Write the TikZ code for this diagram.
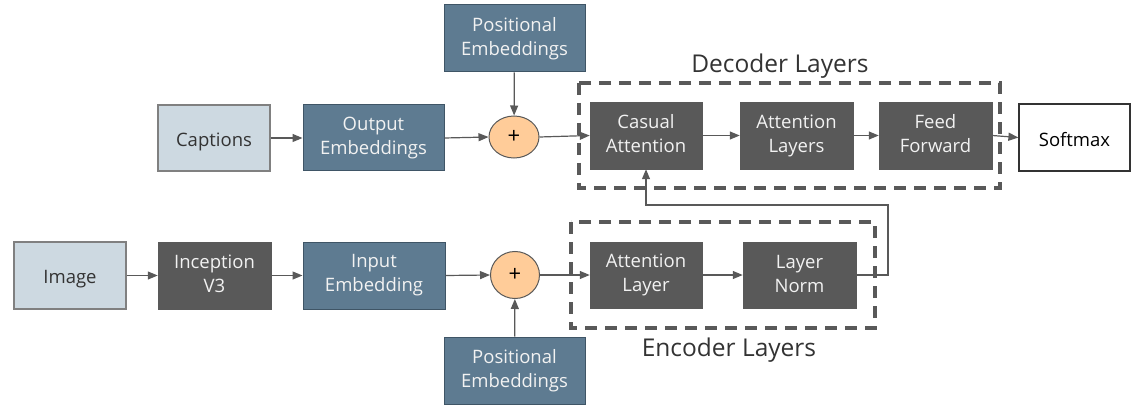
\documentclass[tikz,border=0pt]{standalone}
\usepackage{fontspec}
\setmainfont{Open Sans}
\usetikzlibrary{arrows.meta,shapes.geometric}
\definecolor{lightbox}{HTML}{CDD9E1}
\definecolor{lightborder}{HTML}{808080}
\definecolor{slate}{HTML}{5E7B91}
\definecolor{slateborder}{HTML}{3F5566}
\definecolor{darkbox}{HTML}{595959}
\definecolor{orangeplus}{HTML}{FFCC99}
\definecolor{linecol}{HTML}{595959}
\definecolor{whitetext}{HTML}{F2F2F2}
\definecolor{darktext}{HTML}{333333}
\newcommand{\boxstrut}{\rule[-3.2pt]{0pt}{24pt}}
\begin{document}
\begin{tikzpicture}[x=1pt,y=-1pt,
  base/.style={rectangle,align=center,inner sep=0pt,font=\fontsize{18.5}{24}\selectfont,
    execute at begin node=\boxstrut,execute at end node=\boxstrut},
  lightnode/.style={base,fill=lightbox,draw=lightborder,line width=1.2pt,text=darktext,minimum width=112pt,minimum height=66pt},
  slatenode/.style={base,fill=slate,draw=slateborder,line width=1pt,text=whitetext,minimum height=67pt},
  darknode/.style={base,fill=darkbox,draw=darkbox,line width=0.5pt,text=whitetext,minimum width=112pt,minimum height=67pt},
  whitenode/.style={base,fill=white,draw=darktext,line width=1.2pt,text=black,minimum width=111pt,minimum height=67pt},
  plusnode/.style={ellipse,fill=orangeplus,draw=linecol,line width=1pt,inner sep=0pt,font=\fontsize{22}{24}\selectfont,text=black},
  conn/.style={draw=linecol,line width=1.2pt,-{Triangle[length=10pt,width=8pt]}},
  dashbox/.style={draw=linecol,line width=3.5pt,dash pattern=on 12pt off 8pt},
  grouplabel/.style={font=\fontsize{24.5}{28}\selectfont,text=darktext,inner sep=0pt}
]
\useasboundingbox (0,0) rectangle (1136,409);
% top row
\node[lightnode] (cap) at (214,138) {Captions};
\node[slatenode,minimum width=141pt,minimum height=66pt] (outemb) at (373.5,138) {Output\\Embeddings};
\node[slatenode,minimum width=141pt] (posT) at (514.5,38.5) {Positional\\Embeddings};
\node[plusnode,minimum width=50pt,minimum height=42pt] (plusT) at (514,137) {+};
\node[darknode] (ca) at (646,135.5) {Casual\\Attention};
\node[darknode,minimum width=113pt] (al) at (796.5,135.5) {Attention\\Layers};
\node[darknode,minimum width=113pt] (ff) at (935.5,135.5) {Feed\\Forward};
\node[whitenode] (sm) at (1074.5,137.5) {Softmax};
\draw[dashbox] (579,83) rectangle (1000,188);
\node[grouplabel] (declab) at (780,66) {Decoder Layers};
% bottom row
\node[lightnode,minimum height=67pt] (img) at (70,275.5) {Image};
\node[darknode,minimum width=113pt] (inc) at (214.5,275.5) {Inception\\V3};
\node[slatenode,minimum width=142pt] (inemb) at (374,275.5) {Input\\Embedding};
\node[plusnode,minimum width=49pt,minimum height=47pt] (plusB) at (515,275) {+};
\node[slatenode,minimum width=141pt] (posB) at (514.5,370.5) {Positional\\Embeddings};
\node[darknode,minimum height=66pt] (atl) at (646,275) {Attention\\Layer};
\node[darknode,minimum width=113pt,minimum height=66pt] (ln) at (799.5,275) {Layer\\Norm};
\draw[dashbox] (571,222) rectangle (875,328);
\node[grouplabel] (enclab) at (729,350) {Encoder Layers};
% connectors top
\draw[conn] (cap) -- (outemb);
\draw[conn] (outemb.east) -- (plusT.west);
\draw[conn] (posT) -- (plusT);
\draw[conn] (plusT.east) -- (ca.west);
\draw[conn] (ca) -- (al);
\draw[conn] (al) -- (ff);
\draw[conn] (ff.east) -- (sm.west);
% connectors bottom
\draw[conn] (img) -- (inc);
\draw[conn] (inc) -- (inemb);
\draw[conn] (inemb.east) -- (plusB.west);
\draw[conn] (posB) -- (plusB);
\draw[conn] (plusB.east) -- (atl.west);
\draw[conn] (atl) -- (ln);
\coordinate (fb) at (888,205);
\draw[conn] (ln.east) -| (fb) -| (ca.south);
\end{tikzpicture}
\end{document}
